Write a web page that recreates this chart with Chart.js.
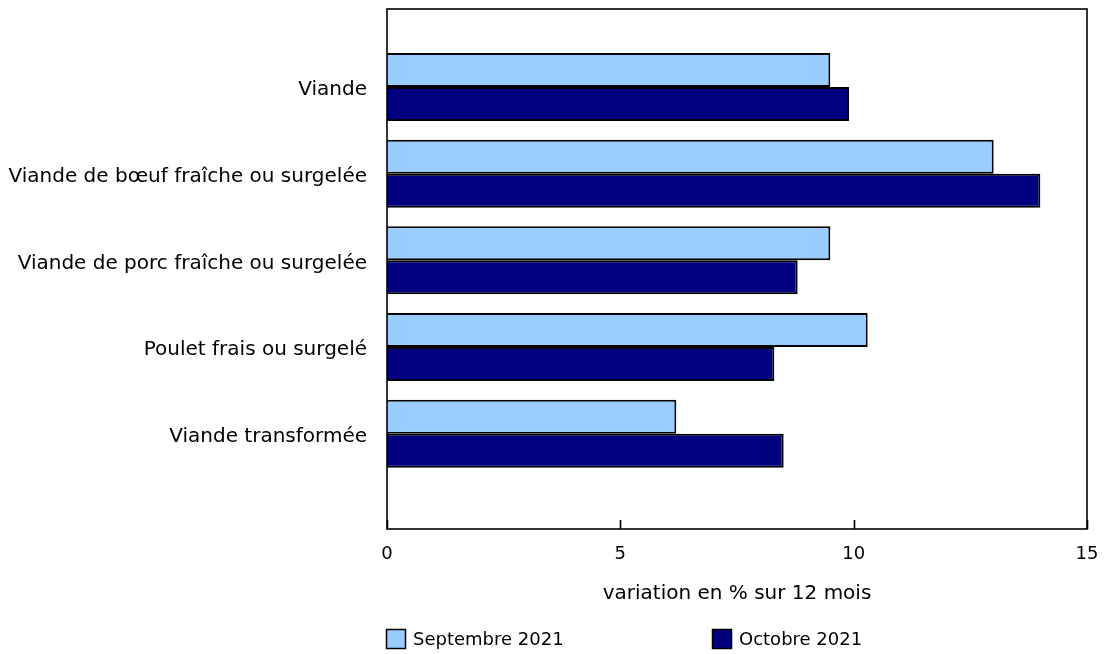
<!DOCTYPE html>
<html>
<head>
<meta charset="utf-8">
<script src="https://cdn.jsdelivr.net/npm/chart.js@4"></script>
<style>
  html, body { margin: 0; padding: 0; background: #fff; }
  #wrap { width: 1104px; height: 654px; }
</style>
</head>
<body>
<div id="wrap"><canvas id="chart" width="1104" height="654"></canvas></div>
<script>
const categories = [
  'Viande',
  'Viande de bœuf fraîche ou surgelée',
  'Viande de porc fraîche ou surgelée',
  'Poulet frais ou surgelé',
  'Viande transformée'
];
const seriesNames = ['Septembre 2021', 'Octobre 2021'];
const septembre = [9.5, 13.0, 9.5, 10.3, 6.2];
const octobre = [9.9, 14.0, 8.8, 8.3, 8.5];
const xTicks = [0, 5, 10, 15];
const xTitle = 'variation en % sur 12 mois';

const FONT = 'DejaVu Sans, Verdana, sans-serif';

// bars sit on a numeric index axis (1..5) so the empty band at the bottom can be kept
const toPoints = vals => vals.map((v, i) => ({ x: v, y: i + 1 }));

// frame round the plot + short inward ticks on the x axis
const framePlugin = {
  id: 'frame',
  afterDatasetsDraw(chart) {
    const { ctx, chartArea: a, scales } = chart;
    ctx.save();
    ctx.strokeStyle = '#000';
    ctx.lineWidth = 1.6;
    ctx.strokeRect(a.left, a.top, a.right - a.left, a.bottom - a.top);
    ctx.beginPath();
    xTicks.forEach(t => {
      const px = Math.round(scales.x.getPixelForValue(t)) + 0.5;
      ctx.moveTo(px, a.bottom);
      ctx.lineTo(px, a.bottom - 9);
    });
    ctx.stroke();
    ctx.restore();
  }
};

// legend under the axis title, lined up with the plot's left edge
const legendPlugin = {
  id: 'legendBelow',
  afterDraw(chart) {
    const { ctx, chartArea: a } = chart;
    const y = 629;
    ctx.save();
    ctx.font = '18px ' + FONT;
    ctx.textBaseline = 'middle';
    chart.data.datasets.forEach((ds, i) => {
      const x = a.left - 1 + i * 326;
      ctx.fillStyle = ds.backgroundColor;
      ctx.fillRect(x, y, 20, 20);
      ctx.strokeStyle = '#000';
      ctx.lineWidth = 1.5;
      ctx.strokeRect(x + 0.5, y + 0.5, 19, 19);
      ctx.fillStyle = '#000';
      ctx.fillText(ds.label, x + 27, y + 11);
    });
    ctx.restore();
  }
};

new Chart(document.getElementById('chart'), {
  type: 'bar',
  data: {
    datasets: [
      {
        label: seriesNames[0],
        data: toPoints(septembre),
        backgroundColor: '#99CCFF',
        borderColor: '#000',
        borderWidth: 2,
        categoryPercentage: 0.785,
        barPercentage: 1.0
      },
      {
        label: seriesNames[1],
        data: toPoints(octobre),
        backgroundColor: '#000080',
        borderColor: '#000',
        borderWidth: 2,
        categoryPercentage: 0.785,
        barPercentage: 1.0
      }
    ]
  },
  plugins: [framePlugin, legendPlugin],
  options: {
    indexAxis: 'y',
    responsive: false,
    animation: false,
    layout: { padding: { top: 9, right: 17, bottom: 44, left: 0 } },
    plugins: {
      legend: { display: false },
      tooltip: { enabled: false }
    },
    scales: {
      x: {
        type: 'linear',
        min: 0,
        max: 15,
        afterBuildTicks: axis => { axis.ticks = xTicks.map(v => ({ value: v })); },
        afterFit: axis => {
          axis.height = 81;
          axis.paddingLeft = 0;
          axis.paddingRight = 0;
        },
        grid: { display: false, drawTicks: false },
        border: { display: false },
        ticks: { color: '#000', padding: 15, font: { family: FONT, size: 18 } },
        title: {
          display: true,
          text: xTitle,
          color: '#000',
          font: { family: FONT, size: 20 },
          padding: { top: 0, bottom: 4 }
        }
      },
      y: {
        type: 'linear',
        reverse: true,
        offset: false,
        min: 0.1,
        max: 6.1,
        afterBuildTicks: axis => { axis.ticks = categories.map((c, i) => ({ value: i + 1 })); },
        afterFit: axis => {
          axis.width = 387;
          axis.paddingTop = 0;
          axis.paddingBottom = 0;
        },
        grid: { display: false, drawTicks: false },
        border: { display: false },
        ticks: {
          color: '#000',
          padding: 20,
          labelOffset: 3,
          font: { family: FONT, size: 20 },
          callback: v => categories[v - 1]
        }
      }
    }
  }
});
</script>
</body>
</html>
